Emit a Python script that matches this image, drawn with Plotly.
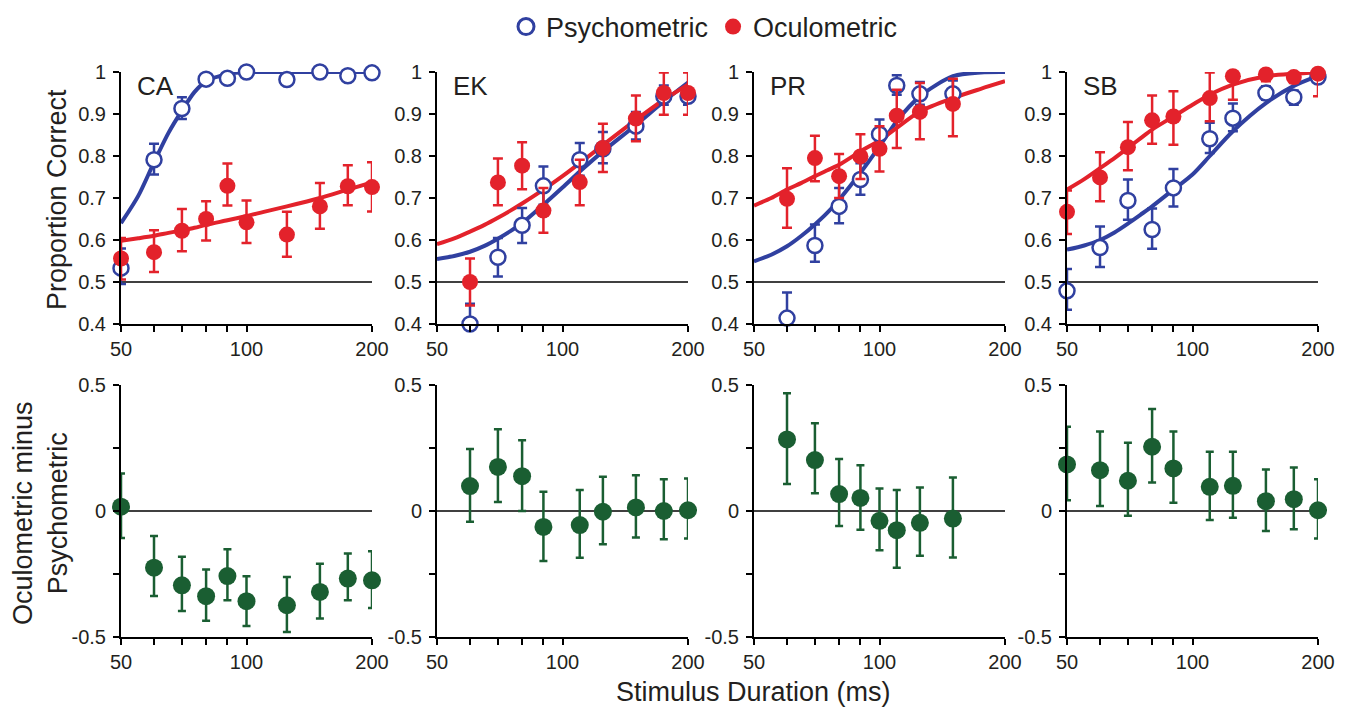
import math
import plotly.graph_objects as go

# ---------------- data ----------------
SUBJECTS = ["CA", "EK", "PR", "SB"]

CA_x = [50, 60, 70, 80, 90, 100, 125, 150, 175, 200]
CA_psy = [0.533, 0.791, 0.913, 0.983, 0.985, 1.0, 0.982, 1.0, 0.991, 0.998]
CA_psy_up = [0.047, 0.038, 0.027, 0.01, 0.01, 0.005, 0.01, 0.005, 0.008, 0.002]
CA_psy_dn = [0.038, 0.035, 0.025, 0.01, 0.01, 0.005, 0.01, 0.005, 0.008, 0.005]
CA_ocu = [0.556, 0.571, 0.622, 0.65, 0.729, 0.642, 0.613, 0.68, 0.728, 0.726]
CA_ocu_up = [0.049, 0.052, 0.052, 0.042, 0.053, 0.052, 0.054, 0.056, 0.05, 0.059]
CA_ocu_dn = [0.05, 0.047, 0.049, 0.051, 0.047, 0.049, 0.053, 0.053, 0.045, 0.058]
CA_diff = [0.017, -0.225, -0.295, -0.338, -0.258, -0.358, -0.374, -0.321, -0.268, -0.275]
CA_diff_up = [0.132, 0.126, 0.113, 0.106, 0.106, 0.099, 0.112, 0.112, 0.099, 0.115]
CA_diff_dn = [0.124, 0.112, 0.102, 0.098, 0.096, 0.098, 0.106, 0.106, 0.086, 0.11]

EK_x = [60, 70, 80, 90, 110, 125, 150, 175, 200]
EK_psy = [0.4, 0.559, 0.635, 0.729, 0.791, 0.817, 0.871, 0.942, 0.942]
EK_psy_up = [0.048, 0.046, 0.041, 0.046, 0.04, 0.04, 0.034, 0.026, 0.02]
EK_psy_dn = [0.0, 0.046, 0.042, 0.045, 0.038, 0.034, 0.032, 0.02, 0.02]
EK_ocu = [0.5, 0.737, 0.777, 0.67, 0.738, 0.819, 0.889, 0.95, 0.95]
EK_ocu_up = [0.056, 0.057, 0.056, 0.054, 0.053, 0.058, 0.055, 0.049, 0.049]
EK_ocu_dn = [0.056, 0.054, 0.056, 0.053, 0.055, 0.057, 0.054, 0.052, 0.052]
EK_diff = [0.099, 0.175, 0.138, -0.063, -0.056, -0.003, 0.014, 0.0, 0.003]
EK_diff_up = [0.147, 0.149, 0.143, 0.139, 0.139, 0.139, 0.128, 0.126, 0.126]
EK_diff_dn = [0.142, 0.139, 0.138, 0.135, 0.13, 0.129, 0.119, 0.112, 0.112]

PR_x = [60, 70, 80, 90, 100, 110, 125, 150]
PR_psy = [0.414, 0.587, 0.68, 0.744, 0.852, 0.968, 0.948, 0.948]
PR_psy_up = [0.061, 0.05, 0.044, 0.039, 0.035, 0.024, 0.028, 0.032]
PR_psy_dn = [0.0, 0.039, 0.04, 0.036, 0.033, 0.022, 0.026, 0.026]
PR_ocu = [0.698, 0.795, 0.752, 0.799, 0.817, 0.896, 0.905, 0.924]
PR_ocu_up = [0.073, 0.053, 0.053, 0.053, 0.054, 0.062, 0.069, 0.06]
PR_ocu_dn = [0.069, 0.055, 0.052, 0.054, 0.054, 0.077, 0.065, 0.077]
PR_diff = [0.284, 0.202, 0.067, 0.052, -0.039, -0.076, -0.047, -0.03]
PR_diff_up = [0.183, 0.146, 0.139, 0.13, 0.128, 0.159, 0.14, 0.163]
PR_diff_dn = [0.177, 0.132, 0.127, 0.126, 0.117, 0.149, 0.131, 0.155]

SB_x = [50, 60, 70, 80, 90, 110, 125, 150, 175, 200]
SB_psy = [0.479, 0.582, 0.694, 0.625, 0.724, 0.841, 0.89, 0.95, 0.94, 0.988]
SB_psy_up = [0.052, 0.05, 0.05, 0.05, 0.045, 0.038, 0.035, 0.016, 0.016, 0.01]
SB_psy_dn = [0.045, 0.046, 0.046, 0.046, 0.044, 0.034, 0.031, 0.016, 0.018, 0.01]
SB_ocu = [0.667, 0.749, 0.821, 0.885, 0.894, 0.938, 0.99, 0.994, 0.988, 0.996]
SB_ocu_up = [0.051, 0.06, 0.06, 0.059, 0.06, 0.061, 0.01, 0.006, 0.012, 0.004]
SB_ocu_dn = [0.053, 0.057, 0.055, 0.056, 0.067, 0.055, 0.056, 0.016, 0.014, 0.054]
SB_diff = [0.185, 0.162, 0.12, 0.255, 0.169, 0.096, 0.1, 0.039, 0.047, 0.003]
SB_diff_up = [0.149, 0.153, 0.151, 0.15, 0.146, 0.139, 0.135, 0.126, 0.126, 0.123]
SB_diff_dn = [0.142, 0.142, 0.139, 0.142, 0.136, 0.132, 0.127, 0.118, 0.119, 0.112]

# fitted curves
CURVE_X = [50, 55, 60, 65, 70, 75, 80, 90, 100, 110, 125, 150, 175, 200]
CA_psy_fit = [0.64, 0.705, 0.785, 0.855, 0.908, 0.952, 0.978, 0.995, 1.0, 1.0, 1.0, 1.0, 1.0, 1.0]
CA_ocu_fit = [0.598, 0.604, 0.61, 0.617, 0.623, 0.629, 0.636, 0.647, 0.657, 0.667, 0.68, 0.70, 0.72, 0.737]
EK_psy_fit = [0.555, 0.562, 0.572, 0.586, 0.603, 0.621, 0.64, 0.684, 0.725, 0.763, 0.811, 0.874, 0.93, 0.975]
EK_ocu_fit = [0.59, 0.604, 0.62, 0.636, 0.653, 0.67, 0.687, 0.72, 0.752, 0.783, 0.826, 0.886, 0.934, 0.97]
PR_psy_fit = [0.549, 0.565, 0.585, 0.61, 0.637, 0.665, 0.696, 0.76, 0.823, 0.883, 0.942, 0.99, 0.999, 1.0]
PR_ocu_fit = [0.682, 0.70, 0.72, 0.736, 0.752, 0.766, 0.779, 0.811, 0.837, 0.867, 0.906, 0.938, 0.96, 0.978]
SB_psy_fit = [0.577, 0.587, 0.6, 0.618, 0.639, 0.66, 0.68, 0.72, 0.756, 0.8, 0.859, 0.926, 0.967, 0.991]
SB_ocu_fit = [0.72, 0.745, 0.771, 0.795, 0.819, 0.842, 0.863, 0.894, 0.922, 0.946, 0.97, 0.99, 0.996, 0.999]

X_TICKS = [50, 60, 70, 80, 90, 100, 200]
X_TICK_TEXT = ["50", "", "", "", "", "100", "200"]
TOP_TICKS = [0.4, 0.5, 0.6, 0.7, 0.8, 0.9, 1.0]
TOP_TICK_TEXT = ["0.4", "0.5", "0.6", "0.7", "0.8", "0.9", "1"]
BOT_TICKS = [-0.5, -0.25, 0, 0.25, 0.5]
BOT_TICK_TEXT = ["-0.5", "", "0", "", "0.5"]

DATA = {
    "CA": (CA_x, CA_psy, CA_psy_up, CA_psy_dn, CA_ocu, CA_ocu_up, CA_ocu_dn,
           CA_diff, CA_diff_up, CA_diff_dn, CA_psy_fit, CA_ocu_fit),
    "EK": (EK_x, EK_psy, EK_psy_up, EK_psy_dn, EK_ocu, EK_ocu_up, EK_ocu_dn,
           EK_diff, EK_diff_up, EK_diff_dn, EK_psy_fit, EK_ocu_fit),
    "PR": (PR_x, PR_psy, PR_psy_up, PR_psy_dn, PR_ocu, PR_ocu_up, PR_ocu_dn,
           PR_diff, PR_diff_up, PR_diff_dn, PR_psy_fit, PR_ocu_fit),
    "SB": (SB_x, SB_psy, SB_psy_up, SB_psy_dn, SB_ocu, SB_ocu_up, SB_ocu_dn,
           SB_diff, SB_diff_up, SB_diff_dn, SB_psy_fit, SB_ocu_fit),
}

# ---------------- style ----------------
# the page body adds an 8px margin, so the figure is 8px smaller and
# every reference pixel position is shifted by -8
PAGE_OFF = 8
W, H = 1349 - PAGE_OFF, 710 - PAGE_OFF
BLUE = "#3040a0"
RED = "#e3222b"
GREEN = "#1a5e32"
INK = "#231f20"
FONT = "Liberation Sans, Arial, Helvetica, sans-serif"

COL_LEFT = [121, 437, 754, 1067]   # reference page pixels
COL_W = 251
TOP_ROW = (72, 324)
BOT_ROW = (385, 637)


def px(x):
    return (x - PAGE_OFF) / W


def py(y):
    return 1 - (y - PAGE_OFF) / H


def xdom(i):
    return [px(COL_LEFT[i]), px(COL_LEFT[i] + COL_W)]


def ydom(row):
    t, b = row
    return [py(b), py(t)]


def sfx(n):
    return "" if n == 1 else str(n)


fig = go.Figure()
layout = dict(
    template="none",
    width=W, height=H,
    margin=dict(l=0, r=0, t=0, b=0, autoexpand=False),
    paper_bgcolor="white", plot_bgcolor="white",
    font=dict(family=FONT, color=INK, size=20),
    showlegend=True,
    legend=dict(orientation="h", xref="container", yref="container",
                x=px((506 + 903) / 2), xanchor="center", y=py(27), yanchor="middle",
                font=dict(size=27, family=FONT, color=INK), itemsizing="trace",
                bgcolor="rgba(0,0,0,0)", borderwidth=0, itemwidth=30),
)
annotations = []
shapes = []


def axis_common():
    return dict(showline=True, linecolor="black", linewidth=2, ticks="outside",
                ticklen=6, tickwidth=2, tickcolor="black", showgrid=False,
                zeroline=False, mirror=False, automargin=False,
                tickfont=dict(size=20, color=INK, family=FONT))


# a hair wider than 50..200 so the points sitting on the edges stay visible
XR = [math.log10(50) - 1e-6, math.log10(200) + 1e-6]

for i, s in enumerate(SUBJECTS):
    (xs, psy, psy_up, psy_dn, ocu, ocu_up, ocu_dn,
     diff, diff_up, diff_dn, psy_fit, ocu_fit) = DATA[s]
    top_n = 2 * i + 1
    bot_n = 2 * i + 2
    tx, ty = "x" + sfx(top_n), "y" + sfx(top_n)
    bx, by = "x" + sfx(bot_n), "y" + sfx(bot_n)

    layout["xaxis" + sfx(top_n)] = dict(axis_common(), type="log", range=XR, domain=xdom(i),
                                        anchor=ty, tickvals=X_TICKS, ticktext=X_TICK_TEXT)
    layout["yaxis" + sfx(top_n)] = dict(axis_common(), range=[0.4 - 1e-6, 1.0 + 1e-6],
                                        domain=ydom(TOP_ROW), ticklabelstandoff=3,
                                        anchor=tx, tickvals=TOP_TICKS, ticktext=TOP_TICK_TEXT)
    layout["xaxis" + sfx(bot_n)] = dict(axis_common(), type="log", range=XR, domain=xdom(i),
                                        anchor=by, tickvals=X_TICKS, ticktext=X_TICK_TEXT)
    layout["yaxis" + sfx(bot_n)] = dict(axis_common(), range=[-0.5, 0.5], domain=ydom(BOT_ROW),
                                        ticklabelstandoff=3,
                                        anchor=bx, tickvals=BOT_TICKS, ticktext=BOT_TICK_TEXT)

    # reference lines (chance and zero)
    shapes.append(dict(type="line", xref=f"{tx} domain", x0=0, x1=1, yref=ty, y0=0.5, y1=0.5,
                       line=dict(color="black", width=1.6), layer="below"))
    shapes.append(dict(type="line", xref=f"{bx} domain", x0=0, x1=1, yref=by, y0=0, y1=0,
                       line=dict(color="black", width=1.6), layer="below"))

    # fitted curves
    fig.add_trace(go.Scatter(x=CURVE_X, y=psy_fit, mode="lines", xaxis=tx, yaxis=ty,
                             line=dict(color=BLUE, width=4, shape="spline", smoothing=0.8),
                             showlegend=False, hoverinfo="skip", cliponaxis=False))
    fig.add_trace(go.Scatter(x=CURVE_X, y=ocu_fit, mode="lines", xaxis=tx, yaxis=ty,
                             line=dict(color=RED, width=4, shape="spline", smoothing=0.8),
                             showlegend=False, hoverinfo="skip", cliponaxis=False))
    # psychometric points
    fig.add_trace(go.Scatter(x=xs, y=psy, mode="markers", xaxis=tx, yaxis=ty,
                             marker=dict(symbol="circle", size=15, color="white",
                                         line=dict(color=BLUE, width=2.5)),
                             error_y=dict(type="data", array=psy_up, arrayminus=psy_dn,
                                          color=BLUE, thickness=2.5, width=5),
                             showlegend=False, cliponaxis=False))
    # oculometric points
    fig.add_trace(go.Scatter(x=xs, y=ocu, mode="markers", xaxis=tx, yaxis=ty,
                             marker=dict(symbol="circle", size=16, color=RED),
                             error_y=dict(type="data", array=ocu_up, arrayminus=ocu_dn,
                                          color=RED, thickness=2.5, width=5),
                             showlegend=False, cliponaxis=False))
    # difference
    fig.add_trace(go.Scatter(x=xs, y=diff, mode="markers", xaxis=bx, yaxis=by,
                             marker=dict(symbol="circle", size=18, color=GREEN),
                             error_y=dict(type="data", array=diff_up, arrayminus=diff_dn,
                                          color=GREEN, thickness=2.5, width=4),
                             showlegend=False, cliponaxis=False))

    annotations.append(dict(text=s, xref=f"{tx} domain", yref=f"{ty} domain",
                            x=0.055, y=0.945, xanchor="left", yanchor="middle",
                            showarrow=False, font=dict(size=26, color=INK, family=FONT)))

# legend entries
fig.add_trace(go.Scatter(x=[None], y=[None], mode="markers", name="Psychometric",
                         xaxis="x", yaxis="y",
                         marker=dict(symbol="circle", size=16, color="white",
                                     line=dict(color=BLUE, width=3))))
fig.add_trace(go.Scatter(x=[None], y=[None], mode="markers", name="Oculometric",
                         xaxis="x", yaxis="y",
                         marker=dict(symbol="circle", size=16, color=RED)))

# axis titles
annotations.append(dict(text="Proportion Correct", xref="paper", yref="paper",
                        x=px(57), y=py(200), xanchor="center", yanchor="middle",
                        textangle=-90, showarrow=False, font=dict(size=27, color=INK, family=FONT)))
annotations.append(dict(text="Oculometric minus<br>Psychometric", xref="paper", yref="paper",
                        x=px(40), y=py(513), xanchor="center", yanchor="middle",
                        textangle=-90, showarrow=False, font=dict(size=27, color=INK, family=FONT)))
annotations.append(dict(text="Stimulus Duration (ms)", xref="paper", yref="paper",
                        x=px(753), y=py(692), xanchor="center", yanchor="middle",
                        showarrow=False, font=dict(size=27, color=INK, family=FONT)))

layout["annotations"] = annotations
layout["shapes"] = shapes
fig.update_layout(**layout)
fig.write_html("out.html")
